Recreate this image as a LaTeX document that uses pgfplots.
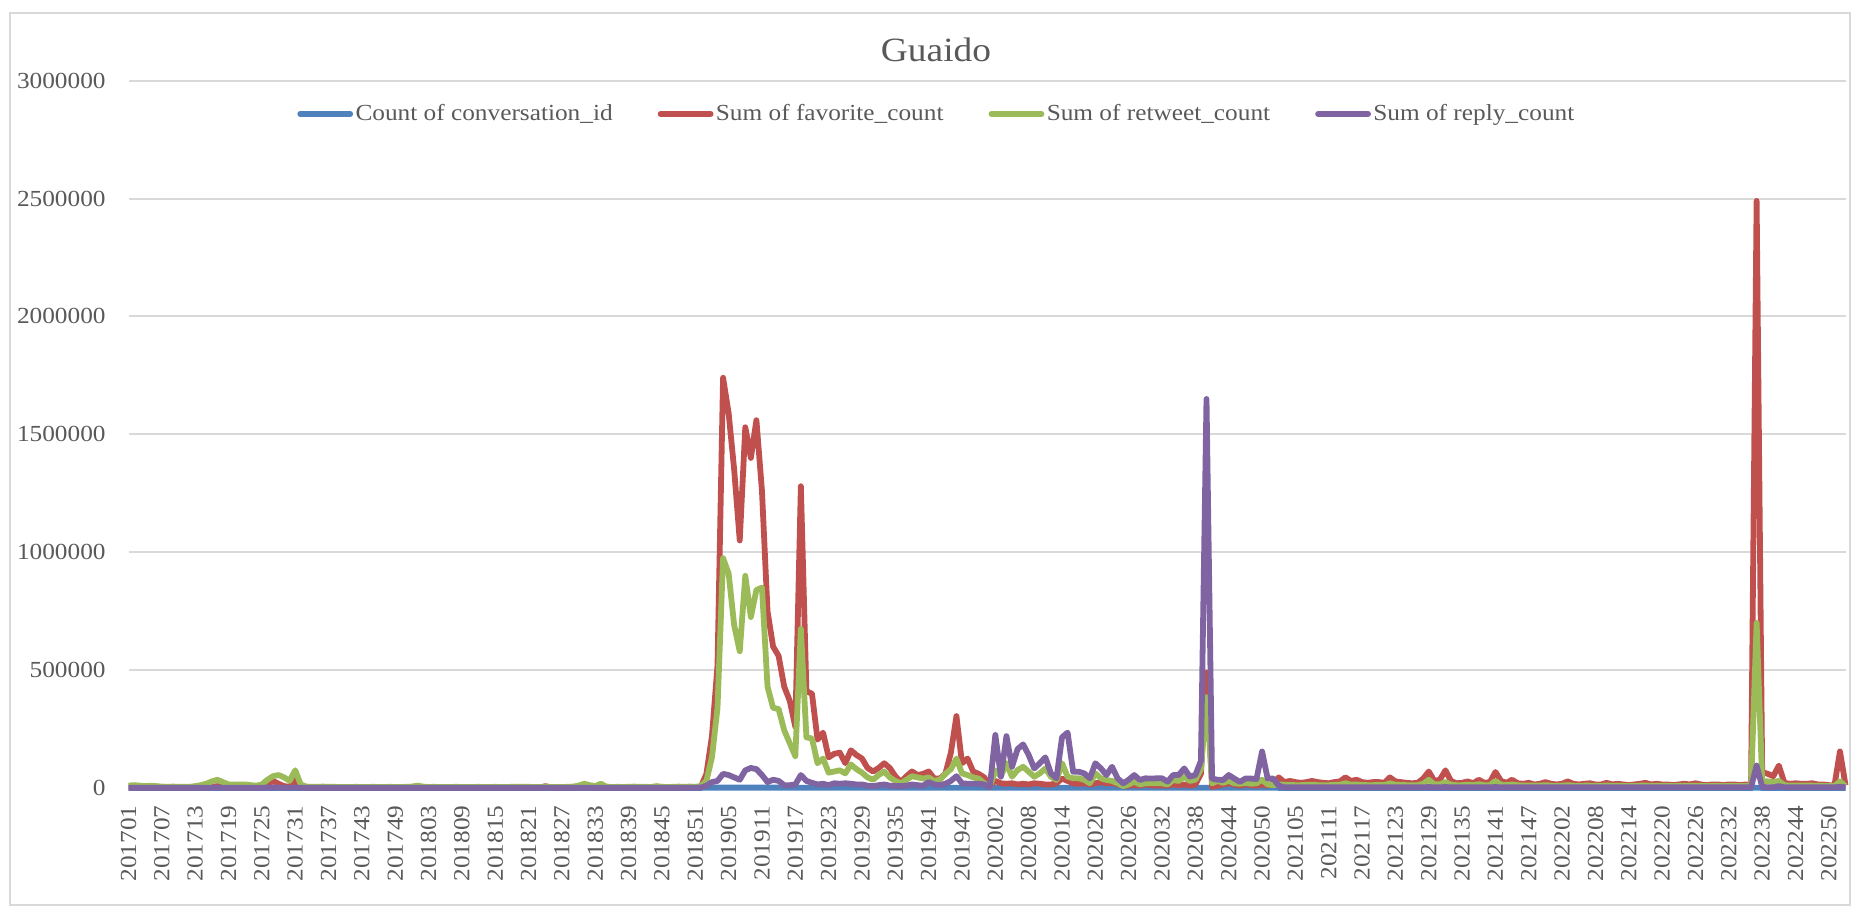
\documentclass[border=0pt]{standalone}
\usepackage{fontspec}
\setmainfont{Liberation Serif}[FakeStretch=1.1]
\usepackage{pgfplots}
\usepackage{pgfplotstable}
\pgfplotsset{compat=1.18}
\definecolor{cblue}{HTML}{4F81BD}
\definecolor{cred}{HTML}{C0504D}
\definecolor{cgreen}{HTML}{9BBB59}
\definecolor{cpurple}{HTML}{8064A2}
\definecolor{txtgray}{HTML}{595959}
\definecolor{gridgray}{HTML}{D9D9D9}

% values in thousands, one row per week (201701 ... 202252)
\pgfplotstableread[row sep=\\]{v\\
3\\3\\2\\2\\3\\2\\2\\2\\3\\2\\
2\\2\\3\\3\\4\\5\\8\\4\\3\\3\\
3\\3\\3\\4\\5\\12\\30\\18\\8\\5\\
35\\5\\3\\2\\2\\2\\2\\2\\2\\2\\
2\\2\\2\\2\\2\\2\\2\\2\\2\\2\\
2\\2\\3\\2\\2\\2\\2\\2\\2\\2\\
2\\2\\2\\2\\3\\2\\2\\2\\2\\2\\
3\\2\\2\\2\\2\\8\\3\\2\\2\\2\\
3\\3\\4\\3\\2\\2\\2\\2\\2\\2\\
2\\2\\2\\2\\2\\2\\2\\2\\2\\3\\
3\\3\\4\\5\\60\\220\\520\\1740\\1590\\1350\\
1050\\1530\\1400\\1560\\1260\\750\\600\\560\\430\\370\\
260\\1280\\410\\400\\205\\235\\130\\145\\150\\105\\
160\\140\\125\\85\\70\\85\\105\\85\\50\\25\\
50\\70\\55\\60\\70\\40\\40\\60\\150\\305\\
105\\125\\70\\60\\45\\10\\30\\20\\18\\20\\
15\\18\\15\\20\\18\\15\\15\\20\\40\\30\\
20\\18\\20\\15\\20\\25\\20\\22\\15\\10\\
10\\12\\10\\15\\12\\10\\12\\10\\15\\12\\
15\\10\\15\\60\\490\\5\\10\\15\\20\\15\\
10\\15\\12\\10\\15\\10\\20\\45\\25\\30\\
25\\22\\25\\30\\25\\22\\20\\25\\28\\45\\
30\\35\\25\\22\\25\\25\\22\\45\\28\\25\\
22\\20\\22\\40\\70\\30\\35\\75\\30\\20\\
22\\28\\20\\35\\22\\25\\68\\30\\22\\35\\
20\\18\\22\\15\\18\\25\\18\\15\\18\\28\\
18\\15\\18\\20\\15\\15\\22\\15\\18\\15\\
12\\15\\18\\22\\15\\18\\15\\15\\12\\15\\
18\\15\\20\\15\\12\\15\\15\\12\\15\\15\\
12\\15\\12\\2490\\68\\60\\50\\95\\22\\18\\
20\\18\\18\\20\\15\\15\\12\\10\\155\\12\\
}\favtab

\pgfplotstableread[row sep=\\]{v\\
10\\12\\10\\8\\10\\8\\6\\5\\6\\5\\
5\\5\\8\\12\\18\\28\\35\\25\\15\\15\\
15\\15\\12\\10\\15\\35\\50\\55\\45\\30\\
75\\15\\6\\5\\5\\6\\5\\5\\4\\4\\
4\\5\\4\\4\\5\\4\\4\\5\\4\\4\\
5\\6\\10\\6\\4\\5\\4\\4\\4\\5\\
4\\4\\4\\5\\4\\4\\5\\4\\4\\5\\
5\\5\\5\\4\\4\\5\\4\\4\\4\\5\\
6\\10\\18\\12\\8\\18\\6\\4\\5\\4\\
5\\6\\5\\5\\4\\8\\5\\4\\5\\6\\
5\\6\\5\\8\\30\\130\\340\\975\\910\\690\\
580\\900\\725\\840\\850\\430\\340\\335\\245\\190\\
135\\675\\215\\210\\105\\125\\65\\70\\75\\62\\
100\\80\\65\\45\\35\\55\\70\\45\\30\\20\\
35\\50\\45\\40\\45\\30\\35\\60\\80\\125\\
62\\55\\45\\40\\20\\5\\75\\50\\105\\48\\
76\\90\\69\\48\\62\\83\\48\\34\\105\\48\\
41\\41\\35\\20\\62\\41\\34\\30\\20\\8\\
15\\27\\15\\20\\20\\20\\20\\15\\34\\30\\
48\\30\\35\\80\\385\\20\\30\\22\\30\\20\\
18\\22\\18\\20\\35\\15\\12\\15\\14\\13\\
12\\12\\13\\14\\12\\12\\12\\13\\14\\20\\
14\\15\\13\\12\\12\\13\\12\\20\\14\\13\\
12\\12\\12\\18\\35\\15\\16\\25\\14\\12\\
12\\14\\12\\16\\12\\12\\30\\14\\12\\15\\
12\\10\\11\\10\\10\\12\\10\\9\\10\\12\\
10\\9\\10\\10\\9\\9\\11\\9\\10\\9\\
8\\9\\10\\11\\9\\10\\9\\9\\8\\9\\
10\\9\\10\\9\\8\\9\\9\\8\\9\\9\\
8\\9\\8\\700\\30\\28\\25\\30\\12\\10\\
10\\10\\10\\10\\9\\9\\8\\8\\28\\8\\
}\rttab

\pgfplotstableread[row sep=\\]{v\\
1\\1\\1\\1\\1\\1\\1\\1\\1\\1\\
1\\1\\1\\1\\1\\1\\2\\1\\1\\1\\
1\\1\\1\\1\\1\\2\\2\\2\\1\\1\\
2\\1\\1\\1\\1\\1\\1\\1\\1\\1\\
1\\1\\1\\1\\1\\1\\1\\1\\1\\1\\
1\\1\\1\\1\\1\\1\\1\\1\\1\\1\\
1\\1\\1\\1\\1\\1\\1\\1\\1\\1\\
1\\1\\1\\1\\1\\1\\1\\1\\1\\1\\
1\\1\\1\\1\\1\\1\\1\\1\\1\\1\\
1\\1\\1\\1\\1\\1\\1\\1\\1\\1\\
1\\1\\1\\2\\10\\25\\30\\60\\55\\45\\
35\\75\\85\\80\\55\\25\\35\\30\\12\\12\\
15\\55\\30\\22\\15\\18\\12\\20\\18\\20\\
18\\15\\15\\10\\8\\12\\15\\10\\8\\8\\
10\\15\\12\\10\\25\\15\\12\\18\\30\\50\\
20\\18\\18\\18\\15\\3\\225\\48\\220\\90\\
165\\185\\140\\83\\105\\130\\62\\41\\215\\235\\
69\\69\\62\\41\\105\\83\\55\\90\\41\\20\\
35\\55\\34\\41\\40\\41\\41\\27\\55\\55\\
83\\48\\55\\115\\1650\\40\\35\\34\\55\\40\\
26\\40\\40\\38\\155\\40\\40\\10\\3\\3\\
3\\3\\3\\3\\3\\3\\3\\3\\3\\3\\
3\\3\\3\\3\\3\\3\\3\\3\\3\\3\\
3\\3\\3\\3\\4\\3\\3\\4\\3\\3\\
3\\3\\3\\3\\3\\3\\4\\3\\3\\3\\
3\\3\\3\\3\\3\\3\\3\\3\\3\\3\\
3\\3\\3\\3\\3\\3\\3\\3\\3\\3\\
3\\3\\3\\3\\3\\3\\3\\3\\3\\3\\
3\\3\\3\\3\\3\\3\\3\\3\\3\\3\\
3\\3\\3\\95\\5\\3\\3\\8\\3\\3\\
3\\3\\3\\3\\3\\3\\3\\3\\5\\3\\
}\reptab

\pgfplotstableread[row sep=\\]{v\\
0.3\\0.3\\0.3\\0.3\\0.3\\0.3\\0.3\\0.3\\0.3\\0.3\\
0.3\\0.3\\0.3\\0.3\\0.3\\0.3\\0.3\\0.3\\0.3\\0.3\\
0.3\\0.3\\0.3\\0.3\\0.3\\0.3\\0.3\\0.3\\0.3\\0.3\\
0.3\\0.3\\0.3\\0.3\\0.3\\0.3\\0.3\\0.3\\0.3\\0.3\\
0.3\\0.3\\0.3\\0.3\\0.3\\0.3\\0.3\\0.3\\0.3\\0.3\\
0.3\\0.3\\0.3\\0.3\\0.3\\0.3\\0.3\\0.3\\0.3\\0.3\\
0.3\\0.3\\0.3\\0.3\\0.3\\0.3\\0.3\\0.3\\0.3\\0.3\\
0.3\\0.3\\0.3\\0.3\\0.3\\0.3\\0.3\\0.3\\0.3\\0.3\\
0.3\\0.3\\0.3\\0.3\\0.3\\0.3\\0.3\\0.3\\0.3\\0.3\\
0.3\\0.3\\0.3\\0.3\\0.3\\0.3\\0.3\\0.3\\0.3\\0.3\\
0.3\\0.3\\0.3\\0.5\\1.2\\1.5\\1.5\\1.5\\1.5\\1.5\\
1.5\\1.5\\1.5\\1.5\\1.5\\1.5\\1.5\\1.5\\1.5\\1.5\\
1.2\\1.2\\1.2\\1.2\\1.2\\1.2\\1.2\\1.2\\1.2\\1.2\\
1.2\\1.2\\1.2\\1.2\\1.2\\1.2\\1.2\\1.2\\1.2\\1.2\\
1.2\\1.2\\1.2\\1.2\\1.2\\1.2\\1.2\\1.2\\1.2\\1.2\\
1.2\\1.2\\1.2\\1.2\\1.2\\1.0\\1.0\\1.0\\1.0\\1.0\\
1.0\\1.0\\1.0\\1.0\\1.0\\1.0\\1.0\\1.0\\1.0\\1.0\\
1.0\\1.0\\1.0\\1.0\\1.0\\1.0\\1.0\\1.0\\1.0\\1.0\\
1.0\\1.0\\1.0\\1.0\\1.0\\1.0\\1.0\\1.0\\1.0\\1.0\\
1.0\\1.0\\1.0\\1.0\\1.5\\1.0\\1.0\\1.0\\1.0\\1.0\\
1.0\\1.0\\1.0\\1.0\\1.0\\1.0\\1.0\\0.6\\0.5\\0.5\\
0.5\\0.5\\0.5\\0.5\\0.5\\0.5\\0.5\\0.5\\0.5\\0.5\\
0.5\\0.5\\0.5\\0.5\\0.5\\0.5\\0.5\\0.5\\0.5\\0.5\\
0.5\\0.5\\0.5\\0.5\\0.5\\0.5\\0.5\\0.5\\0.5\\0.5\\
0.5\\0.5\\0.5\\0.5\\0.5\\0.5\\0.5\\0.5\\0.5\\0.5\\
0.5\\0.5\\0.5\\0.5\\0.5\\0.5\\0.5\\0.5\\0.5\\0.5\\
0.5\\0.5\\0.5\\0.5\\0.5\\0.5\\0.5\\0.5\\0.5\\0.5\\
0.5\\0.5\\0.5\\0.5\\0.5\\0.5\\0.5\\0.5\\0.5\\0.5\\
0.5\\0.5\\0.5\\0.5\\0.5\\0.5\\0.5\\0.5\\0.5\\0.5\\
0.5\\0.5\\0.5\\1.0\\0.5\\0.5\\0.5\\0.5\\0.5\\0.5\\
0.5\\0.5\\0.5\\0.5\\0.5\\0.5\\0.5\\0.5\\0.5\\0.5\\
}\cnttab

\begin{document}
\begin{tikzpicture}
\useasboundingbox (0pt,0pt) rectangle (930.5pt,455pt);
\draw[gridgray, line width=0.8pt] (5pt,2.5pt) rectangle (925pt,448.5pt);
\node[text=txtgray, font=\fontsize{17}{20}\selectfont] at (468pt,430pt) {Guaido};
\begin{axis}[
  at={(64.25pt,61pt)}, anchor=south west,
  scale only axis, width=858.5pt, height=353.65pt,
  xmin=0, xmax=309, ymin=0, ymax=3000,
  clip=false,
  axis line style={draw=none},
  tick style={draw=none},
  ymajorgrids, grid style={gridgray, line width=1pt},
  ytick={0,500,1000,1500,2000,2500,3000},
  yticklabels={0,500000,1000000,1500000,2000000,2500000,3000000},
  scaled y ticks=false,
  xtick={0,6,...,306},
  xticklabels={201701,201707,201713,201719,201725,201731,201737,201743,201749,201803,201809,201815,201821,201827,201833,201839,201845,201851,201905,201911,201917,201923,201929,201935,201941,201947,202002,202008,202014,202020,202026,202032,202038,202044,202050,202105,202111,202117,202123,202129,202135,202141,202147,202202,202208,202214,202220,202226,202232,202238,202244,202250},
  yticklabel style={anchor=east, inner sep=0pt, xshift=-11.25pt, text=txtgray, font=\fontsize{11.5}{13}\selectfont},
  xticklabel style={yshift=-8.5pt, rotate=90, anchor=east, inner sep=0pt, text=txtgray, font=\fontsize{11.5}{13}\selectfont},
  legend columns=4,
  legend style={at={(0.0981,0.953)}, anchor=west, draw=none, fill=none, inner sep=0pt,
    nodes={inner xsep=1.2pt, inner ysep=1pt, text=txtgray, font=\fontsize{11.5}{13}\selectfont},
    /tikz/every even column/.append style={column sep=21.3pt}},
  legend image code/.code={\draw[#1, line cap=round] (0pt,0pt) -- (25pt,0pt);},
  every axis plot/.append style={line width=2.9pt, line join=round, mark=none},
]
\addplot[cblue] table[x expr=\coordindex, y=v] {\cnttab};
\addplot[cred] table[x expr=\coordindex, y=v] {\favtab};
\addplot[cgreen] table[x expr=\coordindex, y=v] {\rttab};
\addplot[cpurple] table[x expr=\coordindex, y=v] {\reptab};
\legend{Count of conversation\_id, Sum of favorite\_count, Sum of retweet\_count, Sum of reply\_count}
\end{axis}
\end{tikzpicture}
\end{document}
